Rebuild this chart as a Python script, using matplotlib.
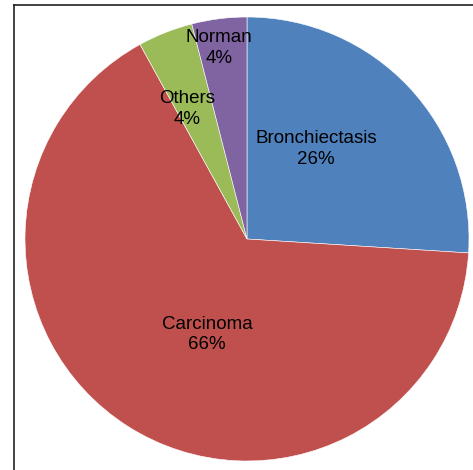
import matplotlib.pyplot as plt
from matplotlib.lines import Line2D

categories = ["Bronchiectasis", "Carcinoma", "Others", "Norman"]
shares = [26, 66, 4, 4]
colors = ["#4F81BD", "#C0504D", "#9BBB59", "#8064A2"]
# label centres (in pie radius units), placed like Excel's best fit
label_pos = [(0.31, 0.405), (-0.18, -0.43), (-0.27, 0.585), (-0.125, 0.86)]

plt.rcParams['font.family'] = ['Liberation Sans', 'DejaVu Sans']

fig = plt.figure(figsize=(4.73, 4.70), dpi=100)
ax = fig.add_axes([25 / 473, 9 / 470, 444 / 473, 444 / 470])
ax.pie(shares, colors=colors, startangle=90, counterclock=False,
       wedgeprops=dict(edgecolor="white", linewidth=0.4))
for name, val, (x, y) in zip(categories, shares, label_pos):
    ax.text(x, y, f"{name}\n{val}%", ha="center", va="center", fontsize=13.5,
            linespacing=1.3, color="black")
ax.set_xlim(-1, 1)
ax.set_ylim(-1, 1)

# outer frame (only left and top sides are visible in the crop)
fig.add_artist(Line2D([13.5 / 473, 13.5 / 473], [0, 465.5 / 470], color="#222222", lw=1.2))
fig.add_artist(Line2D([13.5 / 473, 1], [465.5 / 470, 465.5 / 470], color="#222222", lw=1.2))

fig.savefig("out.png", dpi=100)
